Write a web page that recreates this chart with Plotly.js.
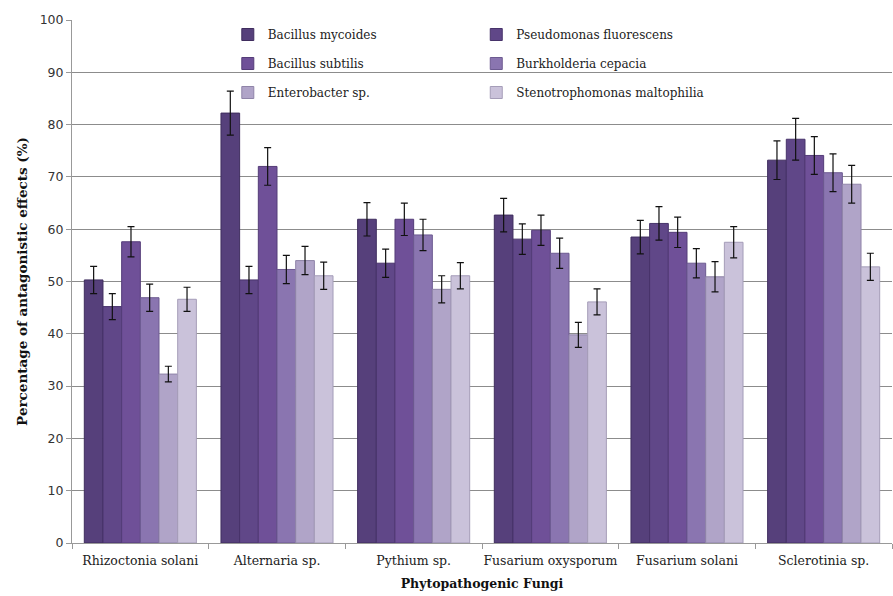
<!DOCTYPE html>
<html>
<head>
<meta charset="utf-8">
<script src="https://cdn.plot.ly/plotly-3.0.1.min.js"></script>
<style>html,body{margin:0;padding:0;background:#fff;}#chart{width:893px;height:596px;}</style>
</head>
<body>
<div id="chart"></div>
<script>
const categories = ["Rhizoctonia solani", "Alternaria sp.", "Pythium sp.", "Fusarium oxysporum", "Fusarium solani", "Sclerotinia sp."];
const seriesNames = ["Bacillus mycoides", "Pseudomonas fluorescens", "Bacillus subtilis", "Burkholderia cepacia", "Enterobacter sp.", "Stenotrophomonas maltophilia"];

const bacillusMycoides = [50.3, 82.2, 61.9, 62.7, 58.5, 73.2];
const pseudomonasFluorescens = [45.2, 50.3, 53.5, 58.1, 61.1, 77.2];
const bacillusSubtilis = [57.6, 72.0, 61.9, 59.8, 59.4, 74.1];
const burkholderiaCepacia = [46.9, 52.3, 58.9, 55.4, 53.5, 70.8];
const enterobacterSp = [32.3, 54.0, 48.5, 39.8, 50.9, 68.6];
const stenotrophomonas = [46.6, 51.1, 51.1, 46.1, 57.5, 52.8];

const errMycoides = [2.6, 4.2, 3.2, 3.2, 3.2, 3.7];
const errPseudomonas = [2.5, 2.6, 2.7, 2.9, 3.2, 4.0];
const errSubtilis = [2.9, 3.6, 3.1, 2.9, 2.9, 3.6];
const errBurkholderia = [2.6, 2.7, 3.0, 2.9, 2.8, 3.6];
const errEnterobacter = [1.5, 2.7, 2.6, 2.4, 2.9, 3.6];
const errSteno = [2.3, 2.6, 2.5, 2.5, 3.0, 2.6];

const yTicks = [0, 10, 20, 30, 40, 50, 60, 70, 80, 90, 100];

const values = [bacillusMycoides, pseudomonasFluorescens, bacillusSubtilis, burkholderiaCepacia, enterobacterSp, stenotrophomonas];
const errors = [errMycoides, errPseudomonas, errSubtilis, errBurkholderia, errEnterobacter, errSteno];
const colors = ["#56407b", "#604788", "#6f5098", "#8a75b0", "#b0a4c8", "#cac2da"];
const lineColors = ["#3f2d5e", "#47336a", "#543c78", "#6c5a90", "#8f84a8", "#a59db8"];

const traces = values.map((v, i) => ({
  type: "bar",
  name: seriesNames[i],
  x: categories,
  y: v,
  legend: i % 2 === 0 ? "legend" : "legend2",
  legendgroup: "g" + i,
  marker: {color: colors[i], line: {color: lineColors[i], width: 1}},
  error_y: {type: "data", array: errors[i], visible: true, color: "#111", thickness: 1.2, width: 3.5}
}));

const legendCommon = {
  orientation: "v",
  bgcolor: "rgba(0,0,0,0)",
  font: {family: "DejaVu Serif", size: 12, color: "#222"},
  traceorder: "grouped",
  tracegroupgap: 10,
  itemwidth: 30,
  yanchor: "top",
  xanchor: "left",
  y: 1.0
};

const layout = {
  width: 893, height: 596,
  margin: {l: 72, r: 1, t: 20, b: 53},
  paper_bgcolor: "#fff", plot_bgcolor: "#fff",
  barmode: "group",
  bargap: 0.18,
  bargroupgap: 0,
  showlegend: true,
  legend: Object.assign({}, legendCommon, {x: 0.19}),
  legend2: Object.assign({}, legendCommon, {x: 0.493}),
  xaxis: {
    type: "category",
    tickangle: 0,
    tickfont: {family: "DejaVu Serif", size: 12.5, color: "#222"},
    showline: true, linecolor: "#999", linewidth: 1,
    ticks: "outside", tickson: "boundaries", ticklen: 5, tickcolor: "#999",
    ticklabelstandoff: 6,
    showgrid: false,
    title: {text: "<b>Phytopathogenic Fungi</b>", font: {family: "DejaVu Serif", size: 12.5, color: "#111"}, standoff: 12}
  },
  yaxis: {
    range: [0, 100],
    tickvals: yTicks,
    ticktext: yTicks.map(String),
    tickfont: {family: "DejaVu Sans", size: 12.5, color: "#333"},
    showline: true, linecolor: "#999", linewidth: 1,
    ticks: "outside", ticklen: 5, tickcolor: "#999",
    showgrid: true, gridcolor: "#8c8c8c", gridwidth: 1,
    zeroline: false,
    title: {text: "<b>Percentage of antagonistic effects (%)</b>", font: {family: "DejaVu Serif", size: 13.5, color: "#111"}, standoff: 8}
  }
};

Plotly.newPlot("chart", traces, layout, {displayModeBar: false, staticPlot: true});
</script>
</body>
</html>
